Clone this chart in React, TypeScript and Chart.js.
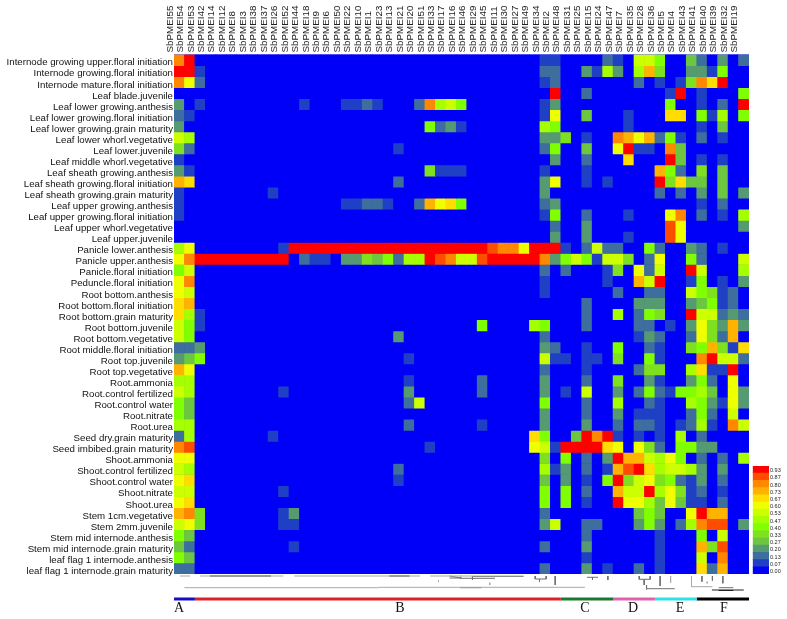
import React, { useEffect, useRef } from "react";
import { Chart, registerables } from "chart.js";

Chart.register(...registerables);

const genes = [55,54,53,42,14,12,8,3,38,37,26,52,44,18,9,6,50,22,10,1,23,13,21,20,51,33,17,16,46,29,45,11,30,27,49,34,2,48,31,25,15,24,47,7,35,28,36,5,4,43,41,40,39,32,19].map((n) => "SbPMEI" + n);

const tissues = [
  "Internode growing upper.floral initiation","Internode growing.floral initiation","Internode mature.floral initiation","Leaf blade.juvenile",
  "Leaf lower growing.anthesis","Leaf lower growing.floral initiation","Leaf lower growing.grain maturity","Leaf lower whorl.vegetative",
  "Leaf lower.juvenile","Leaf middle whorl.vegetative","Leaf sheath growing.anthesis","Leaf sheath growing.floral initiation",
  "Leaf sheath growing.grain maturity","Leaf upper growing.anthesis","Leaf upper growing.floral initiation","Leaf upper whorl.vegetative",
  "Leaf upper.juvenile","Panicle lower.anthesis","Panicle upper.anthesis","Panicle.floral initiation","Peduncle.floral initiation",
  "Root bottom.anthesis","Root bottom.floral initiation","Root bottom.grain maturity","Root bottom.juvenile","Root bottom.vegetative",
  "Root middle.floral initiation","Root top.juvenile","Root top.vegetative","Root.ammonia","Root.control fertilized","Root.control water",
  "Root.nitrate","Root.urea","Seed dry.grain maturity","Seed imbibed.grain maturity","Shoot.ammonia","Shoot.control fertilized",
  "Shoot.control water","Shoot.nitrate","Shoot.urea","Stem 1cm.vegetative","Stem 2mm.juvenile","Stem mid internode.anthesis",
  "Stem mid internode.grain maturity","leaf flag 1 internode.anthesis","leaf flag 1 internode.grain maturity",
];

// Non-zero cells per tissue row, flat pairs: gene column, colour-bin level (0..14)
const rowCells: number[][] = [
  [0,12,1,14,35,1,36,1,41,2,42,1,44,8,45,8,46,6,49,4,50,2,52,3,54,2],
  [0,14,1,14,2,1,35,2,36,2,39,3,40,1,41,7,42,3,44,7,45,11,46,5,49,3,50,3,51,1,52,6],
  [0,12,1,9,2,2,35,1,36,2,44,2,46,1,48,1,49,5,50,12,51,10,52,14],
  [36,14,39,2,47,1,48,14,50,1,54,6],
  [0,3,2,1,12,1,16,1,17,1,18,2,19,1,23,2,24,12,25,7,26,8,27,6,35,1,36,3,47,6,50,1,52,2,54,14],
  [0,2,1,1,35,1,36,9,39,4,43,1,47,10,48,10,50,6,51,1,52,7,54,6],
  [0,3,24,6,25,2,26,3,27,1,35,7,36,6,43,1,50,1,52,4],
  [0,8,1,7,35,3,36,3,37,5,39,1,42,12,43,11,44,9,45,11,46,2,47,6,48,1,50,2,52,1],
  [0,5,1,2,21,1,35,2,36,6,39,4,42,9,43,14,44,1,45,1,47,12,48,4],
  [0,1,36,3,39,2,43,10,47,14,48,4,50,1,52,1],
  [0,3,1,1,24,5,25,1,26,1,27,1,35,1,39,1,46,11,47,6,48,2,50,5,52,4],
  [0,11,1,10,21,2,35,3,36,9,39,1,41,1,46,14,47,5,48,10,49,4,50,4,52,4],
  [0,1,9,1,35,3,46,2,48,2,50,3,52,4,54,3],
  [0,1,16,1,17,1,18,2,19,2,20,1,23,2,24,11,25,9,26,10,27,6,35,2,36,3,50,1,52,2],
  [0,1,35,1,36,6,39,2,43,1,47,9,48,12,50,2,52,1,54,7],
  [36,2,39,3,47,13,48,9,54,3],
  [36,3,39,3,43,1,47,13,48,9],
  [0,7,1,9,10,1,11,14,12,14,13,14,14,14,15,14,16,14,17,14,18,14,19,14,20,14,21,14,22,14,23,14,24,14,25,14,26,14,27,14,28,14,29,14,30,13,31,12,32,12,33,9,34,14,35,14,36,14,37,1,39,2,40,8,41,2,42,2,45,6,46,2,49,3,50,2,52,1],
  [0,9,1,12,2,14,3,14,4,14,5,14,6,14,7,14,8,14,9,14,10,14,12,2,13,1,14,1,16,3,17,3,18,5,19,4,20,6,21,2,22,7,23,7,24,14,25,13,26,12,27,8,28,8,29,13,30,14,31,14,32,14,33,14,34,14,35,12,36,3,37,6,38,8,39,6,40,1,41,8,42,8,43,5,45,2,46,9,49,6,50,2,54,8],
  [0,6,1,8,35,2,37,2,41,1,42,5,44,9,45,2,46,8,49,14,50,8,54,7],
  [0,9,1,12,35,1,41,1,44,11,45,8,46,14,49,1,50,6,52,1,54,3],
  [0,9,1,8,35,1,42,2,45,2,46,2,49,8,50,6,51,5,52,1,53,2],
  [0,10,1,11,39,2,44,3,45,3,46,3,49,3,50,4,51,6,52,1,53,2],
  [0,10,1,7,2,1,39,2,42,7,44,2,45,6,46,5,49,14,50,8,51,8,52,2,53,3,54,2],
  [0,8,1,6,2,1,29,6,34,7,35,6,39,2,44,2,45,2,47,1,49,3,50,9,51,5,52,3,53,11,54,3],
  [0,8,1,6,21,3,35,2,44,1,45,3,46,2,49,2,50,9,51,5,52,2,53,11],
  [0,2,1,2,2,3,35,3,36,2,39,1,42,6,45,2,46,1,49,5,50,6,51,11,52,5,53,1,54,10],
  [0,3,1,4,2,6,22,1,35,8,36,1,37,1,39,1,40,1,42,5,45,6,46,1,50,12,51,14,52,8,53,8,54,2],
  [0,11,1,9,35,2,39,1,44,2,45,5,46,5,49,7,50,10,51,1,52,1,53,14],
  [0,7,1,7,22,1,29,2,35,3,39,2,42,5,45,3,46,1,49,3,50,6,51,2,53,9],
  [0,8,1,7,10,1,22,3,29,2,35,3,37,1,39,8,42,3,44,2,45,6,46,2,47,1,48,6,49,6,50,7,51,4,53,9,54,3],
  [0,6,1,4,22,2,23,8,35,6,39,2,42,7,45,2,46,1,49,7,50,6,51,3,52,1,53,9,54,3],
  [0,6,1,4,35,3,39,2,42,3,44,1,45,1,46,1,49,2,50,6,51,2,53,8],
  [0,7,1,7,22,2,29,1,35,3,39,3,42,2,44,2,45,2,46,1,48,1,49,2,50,7,51,1,53,12,54,8],
  [0,2,1,7,9,1,34,10,35,6,38,4,39,14,40,12,41,14,42,1,44,1,46,1,48,7,50,2],
  [0,12,1,13,24,1,34,9,35,8,36,1,37,14,38,14,39,14,40,14,41,10,42,9,44,9,45,5,46,2,48,6,49,6,50,3,51,3],
  [0,9,1,9,35,5,37,6,39,2,41,3,42,14,43,11,44,11,45,8,46,7,47,9,48,6,50,2,52,2,54,7],
  [0,8,1,7,21,2,35,7,36,1,37,3,39,2,41,1,42,11,43,13,44,14,45,10,46,7,47,8,48,8,49,7,50,3,52,3],
  [0,9,1,10,21,1,35,4,37,3,39,1,41,6,42,14,43,5,44,8,45,9,46,5,47,6,48,2,49,1,50,3,52,2],
  [0,8,1,8,10,1,35,6,37,6,39,2,42,11,43,8,44,8,45,14,46,7,47,9,48,5,49,1,50,2,52,1],
  [0,9,1,10,35,6,37,6,39,1,42,14,43,9,44,9,45,7,46,4,47,9,48,4,49,1,50,1,52,2],
  [0,11,1,12,2,5,10,1,11,3,35,2,44,4,45,6,46,4,49,9,50,14,51,11,52,11],
  [0,8,1,9,2,5,10,1,11,1,35,3,36,8,39,2,40,2,44,3,45,6,46,3,48,2,49,7,50,12,51,13,52,13,54,3],
  [0,6,1,4,39,2,46,1,50,6,52,8],
  [0,4,1,2,11,1,35,2,39,3,46,1,50,11,51,5,52,13],
  [0,6,1,4,39,1,46,1,50,8,52,12],
  [0,2,1,2,35,2,39,3,41,1,44,2,46,1,50,10,51,2,52,11],
];

const binLabels = ["0.00","0.07","0.13","0.20","0.27","0.33","0.40","0.47","0.53","0.60","0.67","0.73","0.80","0.87","0.93"];
const binColors = ["#0000f8","#1f40c4","#3d6e9d","#559a70","#6cc640","#7fe020","#80ff00","#a6ff00","#ccff00","#f0ff00","#ffdd00","#ffb300","#ff8800","#ff4d00","#ff0000"];

// Cluster bands below the heatmap: label, first column edge, last column edge, colour
const clusterNames = ["A","B","C","D","E","F"];
const clusterEdges = [-0.2,2,37,42,46,50,55];
const clusterColors = ["#1010c0","#e02028","#1a7a30","#e060b0","#30e0e8","#000000"];
const clusterLabelAt = [0.48,21.6,39.3,43.9,48.4,52.6];

// Dendrogram strokes: column from, column to, depth from, depth to
const dendroLight = [
  [0.57,1.53,2,2],[2.49,10.46,2,2],[11.51,23.54,2,2],[24.5,27.5,2,2],[1,19.6,13.7,13.7],[19.6,39.3,13.3,13.3],
  [27.37,33.43,2,2],[25.3,25.3,6,8],[30.2,30.2,8.7,11],[47.5,47.5,2,8.7],[49.5,49.5,2,12.7],[49.5,51.5,12.7,12.7],[51,51,7.7,9.3],
];
const dendroMid = [
  [26.35,27.5,2,4],[26.35,27.5,4,4],[28.5,33.43,2.5,2.5],[27.37,30.7,4.3,4.3],[28.55,28.55,2,6],[27.37,29.4,13.7,13.7],
  [34.55,35.6,5,5],[34.55,34.55,2,5],[35.6,35.6,2,5],[34.96,34.96,5,7.7],[36.46,36.46,2,11],[39.5,40.55,3.3,3.3],[40.03,40.03,3.3,6],
  [41.5,41.5,2,6],[44.5,45.55,5.3,5.3],[44.5,44.5,2,5.3],[45.55,45.55,2,5.3],[44.97,44.97,5.3,11],[45.2,45.2,11,15.3],[45.2,47.9,14.7,14.7],
  [46.5,46.5,2,12],[50.5,50.5,2,7.7],[51.5,51.5,2,6.7],[52.5,52.5,2,9.3],[52.1,53.5,13.7,13.7],
];
const dendroDark = [
  [3.44,9.28,2,2],[20.6,22.52,2,2],[51.45,54.5,16,16],[52.1,53.5,16.5,16.5],
];

const seg = (list: number[][]) =>
  list.flatMap(([a, b, c, d]) => [{ x: a, y: c }, { x: b, y: d }, { x: a, y: null as any }]);

const cellColor = (row: number, col: number) => {
  const cells = rowCells[row];
  for (let i = 0; i < cells.length; i += 2) if (cells[i] === col) return binColors[cells[i + 1]];
  return binColors[0];
};

const fixSize = (prop: "width" | "height", size: number) => (s: any) => {
  s[prop] = size;
  s.paddingTop = 0;
  s.paddingBottom = 0;
  s.paddingLeft = 0;
  s.paddingRight = 0;
};

const blueBack = {
  id: "blueBack",
  beforeDatasetsDraw(c: any) {
    const a = c.chartArea;
    c.ctx.save();
    c.ctx.fillStyle = binColors[0];
    c.ctx.fillRect(a.left, a.top, a.right - a.left, a.bottom - a.top);
    c.ctx.restore();
  },
};

const clusterLetters = {
  id: "clusterLetters",
  afterDatasetsDraw(c: any) {
    const { ctx, scales } = c;
    ctx.save();
    ctx.font = '14px "Liberation Serif"';
    ctx.fillStyle = "#111";
    ctx.textAlign = "center";
    ctx.textBaseline = "middle";
    clusterNames.forEach((n, i) => {
      ctx.fillText(n, scales.x.getPixelForValue(clusterLabelAt[i]), scales.y.getPixelForValue(34.7));
    });
    ctx.restore();
  },
};

export default function App() {
  const mainRef = useRef<HTMLCanvasElement>(null);
  const barRef = useRef<HTMLCanvasElement>(null);
  const treeRef = useRef<HTMLCanvasElement>(null);

  useEffect(() => {
    const font = { family: '"Liberation Sans"' };
    const main = new Chart(mainRef.current!, {
      type: "bar",
      data: {
        labels: genes,
        datasets: tissues.map((t, r) => ({
          label: t,
          data: genes.map(() => 1),
          backgroundColor: genes.map((_, c) => cellColor(r, c)),
          borderWidth: 0,
          barPercentage: 1,
          categoryPercentage: 1,
          xAxisID: "x",
          yAxisID: "y",
        })),
      },
      options: {
        animation: false,
        responsive: false,
        layout: { padding: { right: 38, bottom: 11, left: 0, top: 0 } },
        plugins: { legend: { display: false }, tooltip: { enabled: false } },
        scales: {
          x: {
            type: "category",
            position: "top",
            stacked: true,
            offset: true,
            grid: { display: false, drawTicks: false },
            border: { display: false },
            ticks: { autoSkip: false, minRotation: 90, maxRotation: 90, padding: 2, labelOffset: 2.5, font: { ...font, size: 9.8 }, color: "#222" },
            afterFit: fixSize("height", 54.5),
          },
          y: { type: "linear", stacked: true, min: 0, max: tissues.length, reverse: true, display: false },
          rows: {
            type: "category",
            position: "left",
            labels: tissues,
            offset: true,
            grid: { display: false, drawTicks: false },
            border: { display: false },
            ticks: { autoSkip: false, padding: 1, labelOffset: 2.7, font: { ...font, size: 9.7 }, color: "#111" },
            afterFit: fixSize("width", 174),
          },
        },
      } as any,
      plugins: [blueBack],
    });

    const bar = new Chart(barRef.current!, {
      type: "bar",
      data: {
        labels: [...binLabels].reverse(),
        datasets: [{
          data: binLabels.map(() => 1),
          backgroundColor: [...binColors].reverse(),
          borderWidth: 0,
          barPercentage: 1,
          categoryPercentage: 1,
        }],
      },
      options: {
        indexAxis: "y",
        animation: false,
        responsive: false,
        layout: { padding: { left: 7.7, right: 0, top: 6, bottom: 6 } },
        plugins: { legend: { display: false }, tooltip: { enabled: false } },
        scales: {
          x: { min: 0, max: 1, display: false },
          y: {
            position: "right",
            offset: true,
            grid: { display: false, drawTicks: false },
            border: { display: false },
            ticks: { autoSkip: false, padding: 1, labelOffset: 1, font: { ...font, size: 5.5 }, color: "#222" },
            afterFit: fixSize("width", 18),
          },
        },
      } as any,
    });

    const line = (data: any[], color: string, width: number) => ({
      data, borderColor: color, borderWidth: width, pointRadius: 0, showLine: true, spanGaps: false, fill: false,
    });
    const tree = new Chart(treeRef.current!, {
      type: "scatter",
      data: {
        datasets: [
          line(seg(dendroLight), "#a8a8a8", 1),
          line(seg(dendroMid), "#707070", 1),
          line(seg(dendroDark), "#202020", 1.2),
          ...clusterNames.map((_, i) =>
            line(seg([[clusterEdges[i], clusterEdges[i + 1], 25, 25]]), clusterColors[i], 3)
          ),
        ],
      },
      options: {
        animation: false,
        responsive: false,
        layout: { padding: { left: 174, right: 38, top: 0, bottom: 0 } },
        plugins: { legend: { display: false }, tooltip: { enabled: false } },
        scales: {
          x: { type: "linear", min: 0, max: 55, display: false },
          y: { type: "linear", min: 0, max: 45, reverse: true, display: false },
        },
      } as any,
      plugins: [clusterLetters],
    });

    return () => {
      main.destroy();
      bar.destroy();
      tree.destroy();
    };
  }, []);

  const abs = (left: number, top: number): React.CSSProperties => ({ position: "absolute", left, top, display: "block", filter: "blur(0.45px)" });
  return (
    <div style={{ position: "absolute", left: 0, top: 0, width: 787, height: 619, background: "#fff", overflow: "hidden" }}>
      <canvas ref={mainRef} width={787} height={585} style={abs(0, 0)} />
      <canvas ref={treeRef} width={787} height={45} style={abs(0, 574)} />
      <canvas ref={barRef} width={42} height={120} style={abs(745, 460)} />
    </div>
  );
}
